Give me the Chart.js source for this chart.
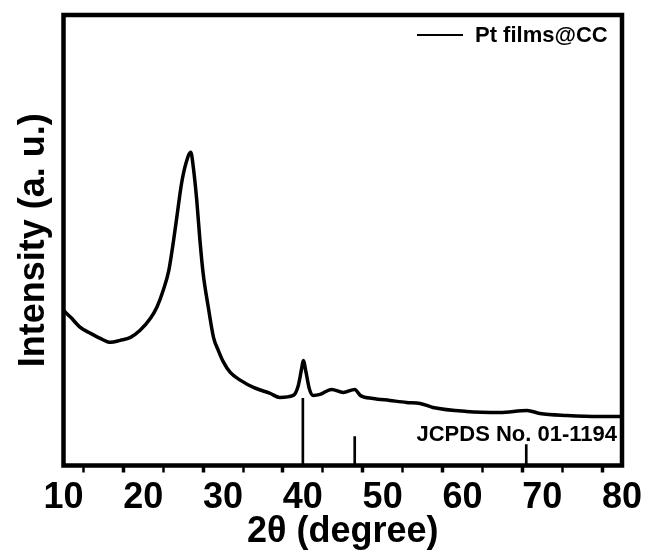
<!DOCTYPE html>
<html lang="en">
<head>
    <meta charset="UTF-8">
    <title>XRD Pt films@CC</title>
    <script src="https://cdn.jsdelivr.net/npm/chart.js"></script>
    <style>
        body { margin: 0; background: #fff; }
        #box { width: 649px; height: 559px; }
    </style>
</head>
<body>
    <div id="box"><canvas id="xrd"></canvas></div>
<script>
    // 2theta (degree) and intensity (a.u.)
    const twoTheta = [10.0, 10.9, 12.1, 13.4, 14.6, 15.9, 17.1, 18.4, 19.6, 20.9,
        21.7, 22.5, 23.2, 23.8, 24.2, 24.8, 25.35, 25.95, 26.27, 26.7,
        27.1, 27.5, 28.15, 28.8, 29.4, 30.0, 30.9, 32.2, 33.8, 35.9,
        37.1, 38.8, 39.43, 39.85, 40.05, 40.4, 40.8, 41.3, 42.15, 43.6,
        45.07, 46.5, 47.2, 48.8, 50.9, 53.0, 54.7, 56.3, 60.5, 64.7,
        68.1, 69.7, 73.1, 77.2, 80.0];
    const intensity = [155, 148, 138, 132, 127, 123, 125, 128, 135, 147,
        158, 175, 195, 225, 248, 282, 302, 313, 298, 265,
        225, 192, 158, 128, 115, 104, 93, 85, 78, 72,
        68, 70, 80, 97, 105, 93, 77, 70, 71, 76,
        73, 76, 70, 67, 65, 63, 62, 58, 54, 53,
        55, 52, 50, 49, 49];

    // reference card peaks
    const refPos = [40.0, 46.5, 68.0];
    const refInt = [67, 29, 21];

    const seriesName = "Pt films@CC";
    const cardName = "JCPDS No. 01-1194";
    const xTitle = "2θ (degree)";
    const yTitle = "Intensity (a. u.)";

    const FONT = '"Liberation Sans", Arial, sans-serif';

    // frame around the plot, legend entry and card label
    const framePlugin = {
        id: 'frame',
        afterDraw(chart) {
            const {ctx, chartArea: a} = chart;
            ctx.save();
            ctx.strokeStyle = '#000';
            ctx.lineWidth = 4.5;
            ctx.strokeRect(a.left, a.top, a.right - a.left, a.bottom - a.top);

            // legend (inside top right)
            ctx.lineWidth = 2;
            ctx.beginPath();
            ctx.moveTo(a.right - 205, a.top + 20);
            ctx.lineTo(a.right - 159, a.top + 20);
            ctx.stroke();
            ctx.fillStyle = '#000';
            ctx.font = 'bold 22px ' + FONT;
            ctx.textAlign = 'left';
            ctx.textBaseline = 'middle';
            ctx.fillText(seriesName, a.right - 147, a.top + 21);

            ctx.font = 'bold 22px ' + FONT;
            ctx.textAlign = 'right';
            ctx.textBaseline = 'alphabetic';
            ctx.fillText(cardName, a.right - 5, 441);
            ctx.restore();
        }
    };

    const ctx = document.getElementById('xrd');
    const chart = new Chart(ctx, {
        type: 'line',
        data: {
            datasets: [
                {
                    label: seriesName,
                    data: twoTheta.map((x, i) => ({x: x, y: intensity[i]})),
                    borderColor: '#000',
                    backgroundColor: '#000',
                    borderWidth: 3.5,
                    pointRadius: 0,
                    cubicInterpolationMode: 'monotone',
                },
                {
                    type: 'bar',
                    label: cardName,
                    data: refPos.map((x, i) => ({x: x, y: refInt[i]})),
                    backgroundColor: '#000',
                    barThickness: 2,
                }
            ]
        },
        options: {
            responsive: true,
            maintainAspectRatio: false,
            animation: false,
            layout: { padding: { top: 15, right: 27, left: 0, bottom: 0 } },
            plugins: {
                tooltip: { enabled: false },
                legend: { display: false }
            },
            scales: {
                x: {
                    type: 'linear',
                    min: 10,
                    max: 80,
                    offset: false,
                    afterFit: s => { s.height = 93.5; },
                    border: { display: false },
                    grid: {
                        drawOnChartArea: false,
                        tickLength: 7,
                        tickColor: '#000',
                        tickWidth: c => (c.tick && c.tick.value % 10 === 0) ? 3.5 : 2.5,
                    },
                    ticks: {
                        stepSize: 5,
                        autoSkip: false,
                        maxRotation: 0,
                        padding: 4,
                        color: '#000',
                        font: { family: FONT, size: 36, weight: 'bold' },
                        callback: v => (v % 10 === 0 ? v : ''),
                    },
                    title: {
                        display: true,
                        text: xTitle,
                        color: '#000',
                        padding: { top: 0, bottom: 5 },
                        font: { family: FONT, size: 36, weight: 'bold' },
                    }
                },
                y: {
                    type: 'linear',
                    min: 0,
                    max: 450,
                    afterFit: s => { s.width = 63.5; },
                    border: { display: false },
                    grid: { display: false },
                    ticks: { display: false },
                    title: {
                        display: true,
                        text: yTitle,
                        color: '#000',
                        padding: { top: 12.5, bottom: 0 },
                        font: { family: FONT, size: 36, weight: 'bold' },
                    }
                }
            }
        },
        plugins: [framePlugin]
    });
</script>
</body>
</html>
